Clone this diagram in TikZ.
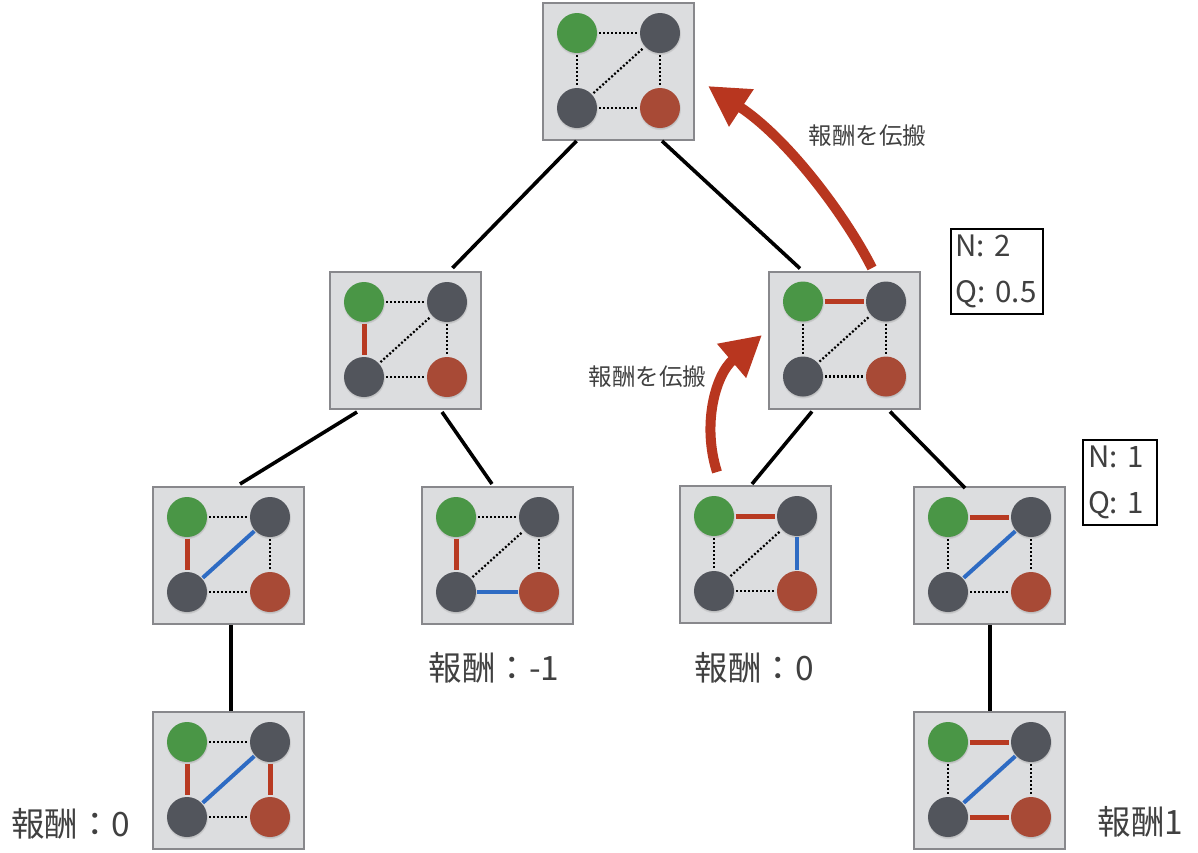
\documentclass[tikz,border=0pt]{standalone}
\usepackage{fontspec}
\setmainfont{Noto Sans CJK JP}
\usetikzlibrary{arrows.meta,shadows}
\definecolor{boardfill}{HTML}{DCDDDF}
\definecolor{boardline}{HTML}{88888C}
\definecolor{stoneg}{HTML}{4A9646}
\definecolor{stonek}{HTML}{52555C}
\definecolor{stoner}{HTML}{A84A36}
\definecolor{edgered}{HTML}{B83A22}
\definecolor{edgeblue}{HTML}{2E6BC3}
\definecolor{arrowred}{HTML}{B8361F}
\definecolor{textgray}{HTML}{404040}
\tikzset{
  board/.style={rectangle, draw=boardline, fill=boardfill, line width=2pt, minimum width=151pt, minimum height=137pt, inner sep=0pt},
  stone/.style={circle, inner sep=0pt, minimum size=40pt, circular drop shadow={shadow xshift=0pt, shadow yshift=-1pt, opacity=0.45, shadow scale=1.06}},
  gstone/.style={stone, fill=stoneg},
  kstone/.style={stone, fill=stonek},
  rstone/.style={stone, fill=stoner},
  dotedge/.style={draw=black, line width=2.2pt, dash pattern=on 2pt off 2pt, shorten <=2pt, shorten >=2pt},
  rededge/.style={draw=edgered, line width=5pt, shorten <=1.5pt, shorten >=1.5pt},
  blueedge/.style={draw=edgeblue, line width=4pt, shorten <=1pt, shorten >=1pt},
  treeline/.style={draw=black, line width=3.6pt},
  flow/.style={draw=arrowred, line width=10pt, -{Triangle[length=40pt,width=42pt]}},
  infobox/.style={rectangle, draw=black, line width=2pt, fill=white, text width=82pt, inner xsep=5pt, minimum height=85pt, align=left, font=\fontsize{29.5}{34}\selectfont, text=textgray},
  biglabel/.style={font=\fontsize{33.5}{36}\selectfont, text=textgray, inner sep=0pt},
  smalllabel/.style={font=\fontsize{23.5}{26}\selectfont, text=textgray, inner sep=0pt},
}
\newcommand\gboard[8]{%
  \node[board] (#1) at (#2,#3) {};
  \node[gstone] (#1tl) at (#2-41.5,#3-38.5) {};
  \node[kstone] (#1tr) at (#2+41.5,#3-38.5) {};
  \node[kstone] (#1bl) at (#2-41.5,#3+36.5) {};
  \node[rstone] (#1br) at (#2+41.5,#3+36.5) {};
  \draw[#4] (#1tl) -- (#1tr);
  \draw[#5] (#1tl) -- (#1bl);
  \draw[#6] (#1tr) -- (#1br);
  \draw[#7] (#1bl) -- (#1br);
  \draw[#8] (#1bl) -- (#1tr);
}
\begin{document}
\begin{tikzpicture}[x=1pt,y=-1pt]
\useasboundingbox (0,0) rectangle (1198,852);
\gboard{top}{618.5}{71.5}{dotedge}{dotedge}{dotedge}{dotedge}{dotedge}
\gboard{ml}{405.5}{340.5}{dotedge}{rededge}{dotedge}{dotedge}{dotedge}
\gboard{mr}{844.5}{340}{rededge}{dotedge}{dotedge}{dotedge}{dotedge}
\gboard{la}{228.5}{555.5}{dotedge}{rededge}{dotedge}{dotedge}{blueedge}
\gboard{lb}{497.5}{555.5}{dotedge}{rededge}{dotedge}{blueedge}{dotedge}
\gboard{lc}{755.5}{554.5}{rededge}{dotedge}{blueedge}{dotedge}{dotedge}
\gboard{ld}{989.5}{555.5}{rededge}{dotedge}{dotedge}{dotedge}{blueedge}
\gboard{le}{228.5}{780.5}{dotedge}{rededge}{rededge}{dotedge}{blueedge}
\gboard{lf}{989.5}{780.5}{rededge}{dotedge}{dotedge}{rededge}{blueedge}
% tree connectors
\draw[treeline] ([xshift=-42pt]top.south) -- ([xshift=47pt,yshift=3pt]ml.north);
\draw[treeline] ([xshift=43.5pt]top.south) -- ([xshift=-44.5pt,yshift=2pt]mr.north);
\draw[treeline] ([xshift=-48.5pt,yshift=-2pt]ml.south) -- ([xshift=11.5pt,yshift=2pt]la.north);
\draw[treeline] ([xshift=36.5pt,yshift=-2pt]ml.south) -- ([xshift=-5.5pt,yshift=2pt]lb.north);
\draw[treeline] ([xshift=-32.5pt,yshift=-2pt]mr.south) -- ([xshift=-3.5pt,yshift=1pt]lc.north);
\draw[treeline] ([xshift=45.5pt,yshift=-2pt]mr.south) -- ([xshift=-24.5pt,yshift=-2pt]ld.north);
\draw[treeline] ([xshift=2.5pt]la.south) -- ([xshift=2.5pt]le.north);
\draw[treeline] ([xshift=0.5pt]ld.south) -- ([xshift=0.5pt]lf.north);
% info boxes
\node[infobox] (info2) at (996.5,271.5) {N: 2\\[12pt]Q: 0.5};
\node[infobox, text width=64pt] (info1) at (1120,482.5) {N: 1\\[12pt]Q: 1};
% propagation arrows
\coordinate (up1s) at (872,268);
\coordinate (up1e) at (708,86);
\coordinate (up2s) at (717,472);
\coordinate (up2e) at (762,335);
\draw[flow] (up1s) .. controls (848,220) and (790,140) .. (up1e);
\draw[flow] (up2s) .. controls (702,425) and (715,375) .. (up2e);
% labels
\node[smalllabel] (prop1) at (867.5,136) {報酬を伝搬};
\node[smalllabel] (prop2) at (647.5,377) {報酬を伝搬};
\node[biglabel] (r1) at (494,668) {報酬：-1};
\node[biglabel] (r2) at (754.5,668) {報酬：0};
\node[biglabel] (r3) at (71,824) {報酬：0};
\node[biglabel] (r4) at (1140.5,822) {報酬1};
\end{tikzpicture}
\end{document}
